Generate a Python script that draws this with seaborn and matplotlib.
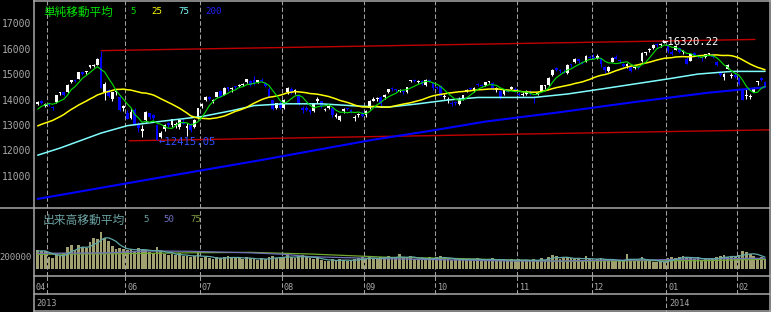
import numpy as np
import pandas as pd
import matplotlib
matplotlib.use("Agg")
import matplotlib.pyplot as plt
import seaborn as sns
from matplotlib.lines import Line2D
from matplotlib import font_manager as fm

# ---------------- data ----------------
opens = [13850,13950,13780,13870,13740,13920,14260,14300,14300,14720,14800,14830,15120,15090,15300,15340,15390,15700,14300,14400,14050,14300,14100,13700,
         13500,13300,13600,13000,12800,13200,13500,13400,13000,12550,12850,13100,13000,13000,12950,13150,12900,13000,12950,13300,
         13750,14000,14100,13950,14100,14350,14200,14500,14450,14550,14550,14600,14700,14750,14800,14700,14800,14650,14450,14000,13700,13900,
         13700,14300,14450,14300,14200,13700,13700,13600,13550,13950,13950,13600,13700,13700,13350,13200,13550,13650,13600,13300,13400,13450,
         13400,13700,13950,14050,14100,14100,14300,14450,14400,14350,14350,14300,14750,14800,14700,14750,14600,14800,14650,
         14500,14550,14100,14000,13900,13900,13850,14050,14300,14450,14350,14600,14600,14600,14700,14650,14400,14350,14250,14400,14450,14450,
         14250,14200,14250,14350,14100,14250,14350,14550,14600,15000,15250,15150,15100,15050,15400,15500,15600,15500,15500,15700,
         15700,15650,15650,15300,15150,15500,15700,15550,15400,15350,15300,15250,15300,15550,15850,15950,16050,16200,16150,16250,
         16150,15900,15950,16050,15900,15600,15550,15850,15750,15650,15700,15800,15800,15500,15100,14900,15200,14950,15000,
         14850,14450,14150,14100,14300,14700,14850,14700]
highs = [13950,13990,13900,13900,13760,14200,14300,14320,14620,14790,14810,15110,15130,15150,15380,15400,15660,15942,14700,14450,14330,14400,14150,13800,
         13600,13700,13700,13150,13000,13550,13500,13450,13050,12800,13050,13150,13250,13150,13250,13300,13100,13100,13250,13700,
         13900,14150,14150,14050,14330,14400,14500,14520,14500,14560,14620,14650,14820,14800,14950,14800,14850,14700,14500,14000,13900,13950,
         14050,14500,14500,14450,14250,13750,13750,13650,13900,14100,13950,13700,13800,13700,13500,13400,13700,13700,13650,13400,13500,13550,
         13600,14000,14100,14120,14150,14250,14450,14500,14450,14450,14400,14520,14800,14820,14800,14800,14820,14830,14700,
         14550,14600,14250,14100,13950,13950,14100,14200,14450,14500,14500,14650,14620,14700,14750,14700,14500,14400,14400,14450,14550,14500,
         14300,14300,14400,14400,14150,14300,14600,14600,14900,15200,15300,15200,15200,15400,15420,15650,15620,15550,15750,15750,
         15800,15800,15650,15350,15350,15700,15750,15600,15450,15450,15350,15300,15350,15900,15900,16050,16200,16250,16250,16320,
         16200,15950,16150,16100,15950,15700,15850,15900,15800,15700,15800,15850,15850,15550,15150,15050,15400,15050,15050,
         14900,14450,14450,14250,14500,14750,14900,14750]
lows = [13800,13860,13720,13770,13600,13900,14200,14150,14280,14660,14700,14820,14980,15020,15270,15300,15380,14480,14000,14100,13950,14200,13560,13580,
        13250,13250,13000,12750,12550,13150,13250,13200,12415,12500,12800,12950,12950,12900,12850,13050,12600,12750,12900,13250,
        13700,13950,14000,13900,14100,14100,14200,14350,14300,14450,14500,14550,14650,14550,14600,14650,14700,14500,14100,13600,13650,13650,
        13650,14250,14250,14250,13800,13500,13550,13450,13530,13900,13700,13550,13650,13350,13300,13190,13500,13600,13500,13190,13350,13350,
        13350,13650,13950,13950,13750,14050,14280,14350,14300,14300,14250,14290,14700,14700,14650,14600,14550,14700,14400,
        14450,14150,14050,13900,13750,13800,13800,14000,14300,14400,14300,14550,14500,14550,14650,14400,14300,14050,14200,14300,14400,14300,
        14150,14150,14200,14200,13900,14200,14350,14450,14550,14950,15150,15050,15050,15030,15300,15450,15450,15400,15480,15600,
        15600,15600,15300,15050,15100,15500,15600,15450,15300,15250,15100,15200,15200,15500,15750,15900,16000,16100,16100,16250,
        15850,15750,15950,15850,15800,15400,15550,15700,15650,15550,15650,15750,15650,15350,14950,14800,15200,14850,14850,
        14600,14000,14050,14050,14300,14600,14750,14500]
closes = [13926,13884,13860,13799,13694,14180,14285,14191,14607,14782,14758,15096,15037,15138,15360,15381,15627,14483,14612,14142,14311,14326,13589,13774,
          13261,13533,13014,12904,12877,13514,13317,13289,12445,12686,13033,13007,13245,13014,13230,13062,12969,12834,13213,13677,
          13852,14099,14055,14018,14309,14109,14472,14416,14472,14506,14599,14615,14808,14589,14658,14778,14731,14562,14129,13661,13869,13668,
          14005,14466,14258,14401,13825,13606,13615,13519,13868,14050,13752,13650,13758,13397,13425,13366,13660,13636,13542,13338,13459,13389,
          13573,13979,14053,14065,13861,14205,14423,14425,14388,14404,14311,14506,14766,14742,14732,14620,14799,14760,14455,
          14484,14170,14157,14024,13853,13894,14037,14194,14404,14441,14467,14586,14561,14693,14713,14426,14486,14088,14396,14325,14502,14327,
          14201,14225,14337,14228,14086,14269,14589,14567,14876,15165,15164,15126,15076,15365,15381,15619,15515,15449,15727,15661,
          15655,15749,15407,15177,15299,15650,15611,15515,15341,15403,15152,15279,15248,15859,15870,16009,16174,16174,16179,16291,
          15908,15814,16121,15880,15912,15422,15808,15747,15734,15641,15795,15820,15695,15391,14972,15006,15384,14956,14915,
          14620,14009,14181,14155,14462,14718,14800,14535]
# closes of the 24 sessions before the first candle (needed for the 5/25-day averages)
pre_closes = [12338,12546,12493,12471,12335,12397,12135,12003,12362,12634,12833,13192,
              13192,13288,13549,13485,13275,13221,13382,13220,13316,13568,13529,13843]

volumes = [309000,293000,293000,195000,179000,228000,228000,260000,358000,390000,309000,390000,358000,341000,
           439000,504000,488000,611000,504000,455000,374000,325000,341000,325000,
           309000,325000,293000,341000,325000,309000,276000,260000,358000,293000,
           244000,228000,244000,228000,260000,211000,211000,195000,211000,276000,
           179000,195000,179000,163000,195000,179000,195000,211000,179000,195000,179000,163000,195000,179000,
           163000,146000,179000,163000,195000,211000,179000,195000,
           195000,228000,195000,179000,211000,228000,195000,179000,163000,195000,146000,130000,
           130000,163000,146000,163000,146000,130000,146000,163000,179000,195000,
           163000,195000,179000,163000,195000,195000,211000,179000,179000,244000,179000,195000,211000,163000,
           163000,179000,146000,195000,179000,
           195000,211000,179000,163000,146000,163000,163000,179000,163000,146000,163000,179000,146000,
           146000,163000,179000,130000,163000,146000,130000,163000,146000,
           163000,146000,146000,130000,163000,146000,179000,146000,195000,228000,
           211000,163000,179000,195000,179000,163000,179000,146000,211000,163000,
           146000,163000,179000,163000,146000,146000,130000,146000,130000,244000,
           163000,130000,146000,195000,163000,130000,114000,114000,130000,114000,
           179000,195000,179000,195000,211000,195000,179000,163000,195000,
           146000,163000,179000,163000,195000,211000,228000,195000,211000,195000,
           228000,302000,276000,244000,211000,179000,195000,163000]
pre_volumes = [276000, 293000, 309000, 293000]

# longer averages (session index, value)
ma75_idx = [0, 6, 17, 24, 33, 44, 52, 58, 66, 76, 86, 94, 102, 110, 118, 126, 133, 142, 151, 160, 169, 177, 186, 195]
ma75_val = [11830, 12110, 12700, 12990, 13160, 13350, 13580, 13780, 13850, 13850, 13760, 13720, 13850, 14000,
            14100, 14100, 14100, 14235, 14430, 14630, 14830, 15020, 15125, 15125]
ma200_idx = [0, 30, 60, 90, 105, 120, 140, 160, 180, 195]
ma200_val = [10110, 10880, 11640, 12440, 12780, 13150, 13520, 13920, 14290, 14500]
vma_idx = [0, 19, 30, 41, 57, 66, 73, 84, 94, 110, 127, 140, 151, 164, 178, 195]
vma50_val = [260000, 268000, 298000, 293000, 268000, 244000, 205000, 187000, 171000, 154000, 135000, 135000,
             146000, 151000, 171000, 179000]
vma75_val = [244000, 252000, 260000, 268000, 276000, 260000, 249000, 221000, 195000, 179000, 151000, 130000,
             135000, 140000, 140000, 163000]

month_start_idx = [3, 24, 44, 66, 88, 107, 129, 149, 169, 188]
month_labels = ["", "06", "07", "08", "09", "10", "11", "12", "01", "02"]
first_month_label = "04"
year_labels = ["2013", "2014"]
year_start_idx = [0, 169]
price_ticks = [11000, 12000, 13000, 14000, 15000, 16000, 17000]
vol_tick = 200000
high_pts_idx = [17, 168]
high_pts_val = [15942.0, 16320.22]
low_pt_idx = 32
low_pt_val = 12415.05
upper_span = [17, 192.3]
lower_span = [24.5, 196.3]

# ---------------- style ----------------
sns.set_theme(style="dark", rc={"axes.facecolor": "black", "figure.facecolor": "black"})
names = {f.name for f in fm.fontManager.ttflist}
NARROW = "Liberation Sans Narrow" in names
NUM = "Liberation Sans Narrow" if NARROW else "DejaVu Sans Mono"
CJK = "Noto Sans CJK JP"
plt.rcParams["font.family"] = [NUM, "DejaVu Sans"]

def nsz(pt):
    return pt if NARROW else pt * 0.8

W, H, DPI = 771, 312, 100
fig = plt.figure(figsize=(W / DPI, H / DPI), dpi=DPI)
fig.patch.set_facecolor("black")

def fx(px):
    return px / W

def fy(py):
    return 1 - py / H

X0, DX = 37.7, 3.73
LEFT, RIGHT = 33.5, 770.0
XL = ((LEFT - X0) / DX, (RIGHT - X0) / DX)
Y_TOP, Y_MID, Y_VOL, Y_MON, Y_BOT = 0.5, 208.0, 276.0, 294.0, 312.0
PY0, PK = 100.0, 0.02543          # y pixel of 14000, pixels per yen
VB, VK = 269.3, 12.3 / 200000     # volume baseline pixel, pixels per unit

GRID = "#a0a0a0"
BORDER = "#a8a8a8"
TXT = "#a8a8a8"

ax_p = fig.add_axes([fx(LEFT), fy(Y_MID), fx(RIGHT) - fx(LEFT), fy(Y_TOP) - fy(Y_MID)])
ax_v = fig.add_axes([fx(LEFT), fy(Y_VOL), fx(RIGHT) - fx(LEFT), fy(Y_MID) - fy(Y_VOL)])
for ax in (ax_p, ax_v):
    ax.set_facecolor("black")
    ax.set_xlim(*XL)
    ax.grid(False)
    ax.set_xticks([])
    ax.set_yticks([])
    for s in ax.spines.values():
        s.set_visible(False)
ax_p.set_ylim(14000 - (Y_MID - PY0) / PK, 14000 + (PY0 - Y_TOP) / PK)
ax_v.set_ylim(-(Y_VOL - VB) / VK, (VB - Y_MID) / VK)

DASH = (4.3, 2.2)
for m in month_start_idx:
    for ax in (ax_p, ax_v):
        ax.axvline(m - 0.5, color=GRID, lw=0.75, dashes=DASH, zorder=0.5)

# ---------------- price panel ----------------
idx = np.arange(len(closes))
o = np.array(opens, float); c = np.array(closes, float)
hi = np.array(highs, float); lo = np.array(lows, float)
up = c >= o
cols = np.where(up, "#ffffff", "#0000ff")
ax_p.vlines(idx, lo, hi, colors=cols, linewidth=0.75, zorder=3)
ax_p.bar(idx, np.maximum(np.abs(c - o), 40), bottom=np.minimum(o, c), width=0.74,
         color=cols, linewidth=0, zorder=4)

allc = pd.Series(pre_closes + closes, dtype=float)
ma5 = allc.rolling(5).mean().to_numpy()[len(pre_closes):]
ma25 = allc.rolling(25).mean().to_numpy()[len(pre_closes):]

slope = (high_pts_val[1] - high_pts_val[0]) / (high_pts_idx[1] - high_pts_idx[0])
ux = np.array(upper_span)
uy = high_pts_val[0] + (ux - high_pts_idx[0]) * slope
lx = np.array(lower_span)
ly = low_pt_val + (lx - low_pt_idx) * slope
ax_p.plot(ux, uy, color="#c00000", lw=1.0, zorder=2)
ax_p.plot(lx, ly, color="#c00000", lw=1.0, zorder=2)

sns.lineplot(x=ma200_idx, y=ma200_val, ax=ax_p, color="#0000ff", linewidth=1.5, legend=False, zorder=5)
sns.lineplot(x=ma75_idx, y=ma75_val, ax=ax_p, color="#80ffff", linewidth=1.1, legend=False, zorder=5)
sns.lineplot(x=idx, y=ma25, ax=ax_p, color="#ffff00", linewidth=1.1, legend=False, zorder=6)
sns.lineplot(x=idx, y=ma5, ax=ax_p, color="#00e000", linewidth=0.8, legend=False, zorder=7)

# ---------------- volume panel ----------------
ax_v.bar(idx, volumes, width=0.74, color="#a0a070", linewidth=0, zorder=2)
allv = pd.Series(pre_volumes + volumes, dtype=float)
vma5 = allv.rolling(5).mean().to_numpy()[len(pre_volumes):]
sns.lineplot(x=vma_idx, y=vma75_val, ax=ax_v, color="#70a830", linewidth=0.9, legend=False, zorder=3)
sns.lineplot(x=vma_idx, y=vma50_val, ax=ax_v, color="#7070b8", linewidth=0.9, legend=False, zorder=4)
sns.lineplot(x=idx, y=vma5, ax=ax_v, color="#60a8a8", linewidth=0.9, legend=False, zorder=5)
for ax in (ax_p, ax_v):
    ax.set_xlabel(""); ax.set_ylabel("")

# ---------------- text helpers ----------------
def txt(x, yc, s, pt, color, family, ha="left", cap=0.72):
    base = yc + cap * pt * DPI / 72 / 2
    fig.text(fx(x), fy(base), s, fontsize=pt, color=color, family=family, ha=ha, va="baseline")

for p in price_ticks:
    txt(31.5, PY0 - (p - 14000) * PK, str(p), nsz(8.8), TXT, [NUM, "DejaVu Sans"], ha="right")
txt(32.0, VB - vol_tick * VK, str(vol_tick), nsz(8.0), TXT, [NUM, "DejaVu Sans"], ha="right")

# annotations of the extreme values
hx = X0 + (high_pts_idx[1] - 0.6) * DX
hy = PY0 - (high_pts_val[1] - 14000) * PK
txt(hx, hy + 0.5, "\u2190%.2f" % high_pts_val[1], nsz(9.6), "#ffffff", [NUM, "DejaVu Sans"])
lxp = X0 + (low_pt_idx + 0.3) * DX
lyp = PY0 - (low_pt_val - 14000) * PK
txt(lxp, lyp + 0.8, "\u2190%.2f" % low_pt_val, nsz(9.6), "#3050ff", [NUM, "DejaVu Sans"])

# legends
txt(43, 11.3, "単純移動平均", 8.4, "#00e000", [CJK, "DejaVu Sans"], cap=0.76)
txt(130, 10.8, "5", nsz(8.2), "#00e000", [NUM, "DejaVu Sans"])
txt(151, 10.8, "25", nsz(8.2), "#ffff00", [NUM, "DejaVu Sans"])
txt(178, 10.8, "75", nsz(8.2), "#80ffff", [NUM, "DejaVu Sans"])
txt(205, 10.8, "200", nsz(8.2), "#2020ff", [NUM, "DejaVu Sans"])
txt(43, 219.0, "出来高移動平均", 8.5, "#6aa0a0", [CJK, "DejaVu Sans"], cap=0.76)
txt(143, 218.5, "5", nsz(8.2), "#6aa0a0", [NUM, "DejaVu Sans"])
txt(163, 218.5, "50", nsz(8.2), "#7070c0", [NUM, "DejaVu Sans"])
txt(190, 218.5, "75", nsz(8.2), "#80a040", [NUM, "DejaVu Sans"])

# month / year rows
def vline_px(x, y0, y1, color, lw, dashes=None):
    ln = Line2D([fx(x), fx(x)], [fy(y0), fy(y1)], transform=fig.transFigure, color=color, lw=lw)
    if dashes:
        ln.set_dashes(dashes)
    fig.add_artist(ln)

def hline_px(y, x0, x1, color, lw):
    fig.add_artist(Line2D([fx(x0), fx(x1)], [fy(y), fy(y)], transform=fig.transFigure, color=color, lw=lw))

txt(36, 287.3, first_month_label, nsz(7.6), TXT, [NUM, "DejaVu Sans"])
for m, lab in zip(month_start_idx, month_labels):
    xp = X0 + (m - 0.5) * DX
    bottom = Y_BOT if m in year_start_idx else Y_MON
    vline_px(xp, Y_VOL, bottom, GRID, 0.75, DASH)
    if lab:
        txt(xp + 1.8, 287.3, lab, nsz(7.6), TXT, [NUM, "DejaVu Sans"])
for yi, ylab in zip(year_start_idx, year_labels):
    xp = 36 if yi == 0 else X0 + (yi - 0.5) * DX + 3
    txt(xp, 302.7, ylab, nsz(7.6), TXT, [NUM, "DejaVu Sans"])

# borders
vline_px(33.5, 0, 312, BORDER, 1.1)
vline_px(769.5, 0, 312, BORDER, 1.1)
hline_px(0.5, 33.5, 770, BORDER, 1.1)
hline_px(Y_MID, 0, 770, BORDER, 1.1)
hline_px(Y_VOL, 33.5, 770, BORDER, 1.1)
hline_px(Y_MON, 33.5, 770, BORDER, 1.1)
hline_px(311.3, 33.5, 770, BORDER, 1.1)

fig.savefig("out.png", dpi=DPI, facecolor="black")
